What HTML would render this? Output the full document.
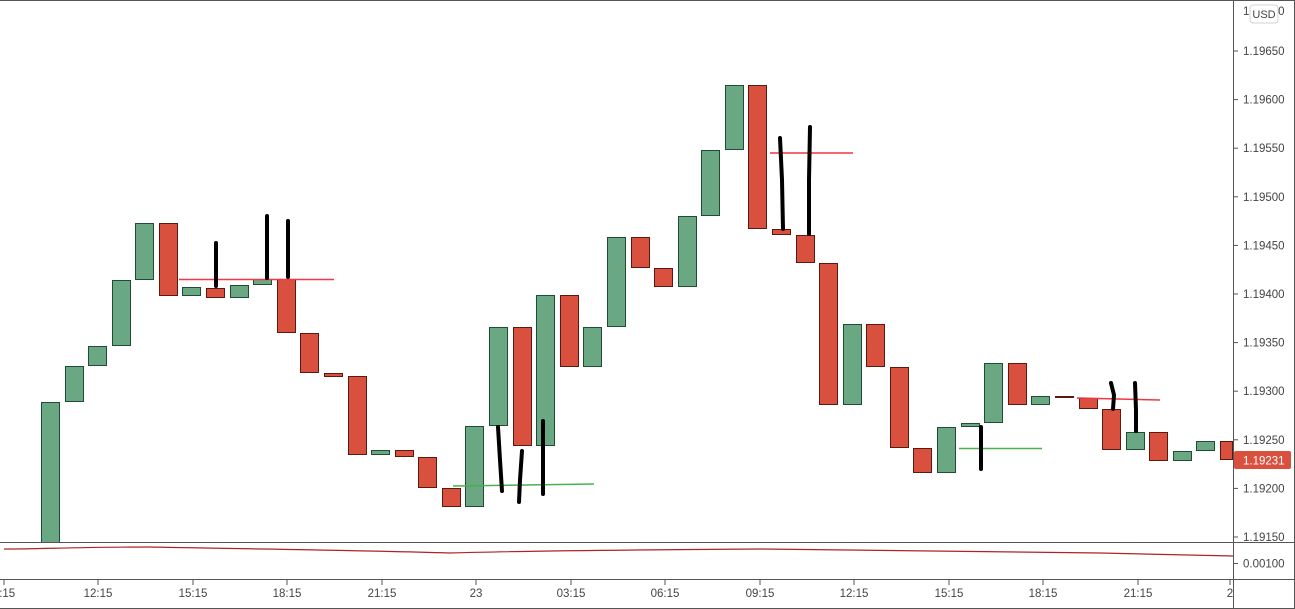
<!DOCTYPE html>
<html><head><meta charset="utf-8"><style>
html,body{margin:0;padding:0;background:#fff;}
svg{display:block;font-family:"Liberation Sans",sans-serif;}
</style></head><body>
<svg width="1295" height="609" xmlns="http://www.w3.org/2000/svg">
<rect width="1295" height="609" fill="#fff"/>
<g id="c" stroke-width="1"></g>
<g fill="none" stroke-width="1.5">
<line x1="179" y1="279.5" x2="334" y2="279.5" stroke="#f23645"/>
<line x1="770" y1="153" x2="853" y2="153" stroke="#f23645"/>
<line x1="453" y1="486" x2="594" y2="484" stroke="#4caf50"/>
<line x1="959" y1="448.5" x2="1042" y2="448.5" stroke="#4caf50"/>
<line x1="1077" y1="398" x2="1160" y2="400" stroke="#f23645"/>
</g>
<g stroke="#000" stroke-width="4" stroke-linecap="round" fill="none">
<line x1="216" y1="243" x2="216" y2="286"/>
<line x1="267" y1="216" x2="267" y2="278"/>
<line x1="288" y1="221" x2="288" y2="277"/>
<path d="M498 427 L500 460 L502 491"/>
<path d="M522 451 L520 480 L519 502"/>
<line x1="543" y1="421" x2="543" y2="494"/>
<path d="M780 138 L782 180 L783 229"/>
<path d="M810 127 L809 180 L809 234"/>
<line x1="981" y1="427" x2="981" y2="469"/>
<path d="M1111 383 L1114 395 L1113 409"/>
<path d="M1135 383 L1136 410 L1136 431"/>
</g>
<rect x="0" y="542" width="1233" height="37" fill="#fff"/>
<path d="M4 549 C40 549 80 547 150 547 C250 549 350 550 450 553 C520 551 600 550 760 549 C900 550 1000 551 1100 553 L1233 556" fill="none" stroke="#b22222" stroke-width="1.2"/>
<line x1="0" y1="542.5" x2="1233" y2="542.5" stroke="#555"/>
<line x1="0" y1="579.5" x2="1295" y2="579.5" stroke="#555"/>
<line x1="1233.5" y1="0" x2="1233.5" y2="609" stroke="#555"/>
<line x1="0" y1="0.5" x2="1295" y2="0.5" stroke="#555"/>
<line x1="0" y1="608.5" x2="1295" y2="608.5" stroke="#555"/>
<line x1="1294.5" y1="0" x2="1294.5" y2="609" stroke="#555"/>
<line x1="1233" y1="542.5" x2="1295" y2="542.5" stroke="#555"/>
<g id="pl" font-size="11.5" fill="#444"></g>
<rect x="1250" y="5" width="28" height="18" rx="3" fill="#fff" stroke="#d0d3db"/>
<text x="1264" y="18" font-size="11" fill="#444" text-anchor="middle">USD</text>
<rect x="1234" y="451" width="57" height="18" rx="2" fill="#d9503f"/>
<text x="1243" y="464.5" font-size="11.5" fill="#fff">1.19231</text>
<line x1="1233" y1="563.5" x2="1238" y2="563.5" stroke="#555"/>
<text x="1243" y="567.5" font-size="11.5" fill="#444">0.00100</text>
<g id="tl" font-size="11.5" fill="#444" text-anchor="middle"></g>
</svg>
<script>
var ns="http://www.w3.org/2000/svg";
var d=[["g",402,543],["g",366,402],["g",346,366],["g",280,346],["g",223,280],["r",223,296],["g",287,296],["r",288,298],["g",285,298],["g",279,285],["r",279,333],["r",333,373],["r",373,377],["r",376,455],["g",450,455],["r",450,457],["r",457,488],["r",488,507],["g",426,507],["g",327,426],["r",327,446],["g",295,446],["r",295,367],["g",327,367],["g",237,327],["r",237,268],["r",268,287],["g",216,287],["g",150,216],["g",85,150],["r",85,229],["r",229,235],["r",235,263],["r",263,405],["g",324,405],["r",324,367],["r",367,448],["r",448,473],["g",427,473],["g",423,427],["g",363,423],["r",363,405],["g",396,405],["r",396,398],["r",398,409],["r",409,450],["g",432,450],["r",432,461],["g",451,461],["g",441,451],["r",441,460]];
var c=document.getElementById("c");
d.forEach(function(b,i){var x=Math.round(41+i*23.58);var r=document.createElementNS(ns,"rect");
var w=19;if(x+w>1233)w=1233-x;
r.setAttribute("x",x+0.5);r.setAttribute("y",b[1]+0.5);r.setAttribute("width",w-1);r.setAttribute("height",Math.max(1,b[2]-b[1]-1));
r.setAttribute("fill",b[0]=="g"?"#6aa883":"#d9503f");r.setAttribute("stroke",b[0]=="g"?"#1e4d33":"#5a1a10");c.appendChild(r);});
var pl=document.getElementById("pl");
var ps=["1.19650","1.19600","1.19550","1.19500","1.19450","1.19400","1.19350","1.19300","1.19250","1.19200","1.19150"];
ps.forEach(function(p,i){var y=51+i*48.6;var t=document.createElementNS(ns,"text");t.setAttribute("x",1243);t.setAttribute("y",(y+4).toFixed(1));t.textContent=p;pl.appendChild(t);
var l=document.createElementNS(ns,"line");l.setAttribute("x1",1233);l.setAttribute("x2",1238);l.setAttribute("y1",y);l.setAttribute("y2",y);l.setAttribute("stroke","#555");pl.appendChild(l);});
var t0=document.createElementNS(ns,"text");t0.setAttribute("x",1243);t0.setAttribute("y",15);t0.textContent="1.19700";pl.appendChild(t0);
var tl=document.getElementById("tl");
var ts=[[4,"9:15"],[98,"12:15"],[193,"15:15"],[287,"18:15"],[382,"21:15"],[476,"23"],[571,"03:15"],[665,"06:15"],[760,"09:15"],[854,"12:15"],[949,"15:15"],[1043,"18:15"],[1138,"21:15"],[1230,"2"]];
ts.forEach(function(a){var t=document.createElementNS(ns,"text");t.setAttribute("x",a[0]);t.setAttribute("y",597);t.textContent=a[1];tl.appendChild(t);
var l=document.createElementNS(ns,"line");l.setAttribute("x1",a[0]);l.setAttribute("x2",a[0]);l.setAttribute("y1",580);l.setAttribute("y2",585);l.setAttribute("stroke","#555");tl.appendChild(l);});
</script>
</body></html>
